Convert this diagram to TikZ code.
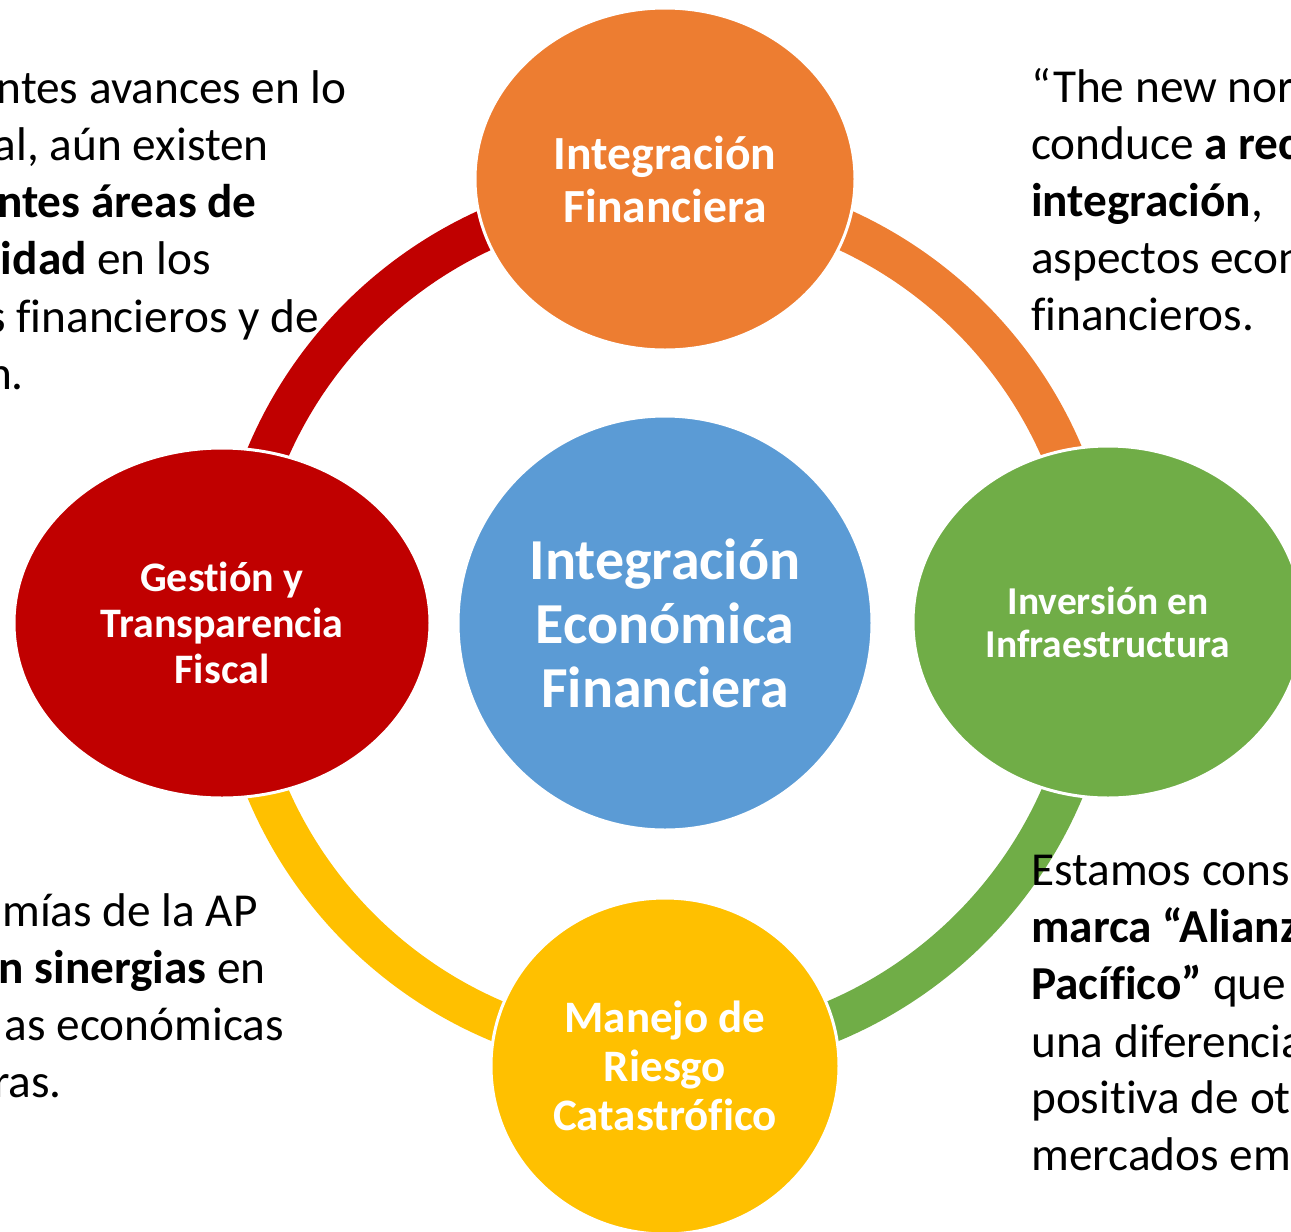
\documentclass[tikz,border=0pt]{standalone}
\usepackage{fontspec}
\setmainfont[Ligatures={NoCommon}]{Carlito}
\usetikzlibrary{shapes.geometric}
\definecolor{hubblue}{HTML}{5B9BD5}
\definecolor{finorange}{HTML}{ED7D31}
\definecolor{infgreen}{HTML}{70AD47}
\definecolor{riskyellow}{HTML}{FFC000}
\definecolor{fiscred}{HTML}{C00000}

\begin{document}
\begin{tikzpicture}[
    x=1pt, y=-1pt,
    sat/.style={
      ellipse, draw=white, line width=3pt, inner sep=0pt,
      text=white, align=center
    },
    hub/.style={sat, circle, fill=hubblue, minimum size=414pt,
      font=\bfseries\fontsize{58}{64}\selectfont},
    ring/.style={line width=41pt, line cap=butt},
    body/.style={inner sep=0pt, font=\fontsize{47.3}{57}\selectfont, text=black}
  ]
  \useasboundingbox (0,0) rectangle (1291,1232);
  \clip (0,0) rectangle (1291,1232);

  % Centro
  \node[hub] (ctr) at (665,623) {Integración\\Económica\\Financiera};

  % Anillo (un arco por color, los extremos quedan bajo las elipses)
  \draw[ring, fiscred]    (ctr) ++(180:432) arc[start angle=180, end angle=270, radius=432];
  \draw[ring, finorange]  (ctr) ++(270:432) arc[start angle=270, end angle=360, radius=432];
  \draw[ring, infgreen]   (ctr) ++(0:432)   arc[start angle=0,   end angle=90,  radius=432];
  \draw[ring, riskyellow] (ctr) ++(90:432)  arc[start angle=90,  end angle=180, radius=432];

  % Elipses
  \node[sat, fill=finorange, minimum width=380pt, minimum height=342pt,
        font=\bfseries\fontsize{47.6}{53}\selectfont]
        (finan) at (665,179) {Integración\\Financiera};
  \node[sat, fill=infgreen, minimum width=390pt, minimum height=352pt,
        font=\bfseries\fontsize{39.5}{43}\selectfont]
        (infra) at (1108,622) {Inversión en\\Infraestructura};
  \node[sat, fill=riskyellow, minimum width=348pt, minimum height=336pt,
        font=\bfseries\fontsize{45}{49}\selectfont]
        (riesgo) at (665,1066) {Manejo de\\Riesgo\\Catastrófico};
  \node[sat, fill=fiscred, minimum width=416pt, minimum height=350pt,
        font=\bfseries\fontsize{42}{46}\selectfont]
        (fiscal) at (222,623) {Gestión y\\Transparencia\\Fiscal};

  % Textos laterales (cortados por el borde)
  \foreach \n/\xx/\yy/\t in {
      1/347/103/{ntes avances en lo},
      2/269/160/{al, aún existen},
      3/257/217/{\textbf{ntes áreas de}},
      4/211/274/{\textbf{idad} en los},
      5/319/332/{s financieros y de},
      6/24/389/{n.}}
    \node[body, anchor=base east] (nw\n) at (\xx,\yy) {\t};

  \foreach \n/\xx/\yy/\t in {
      1/258/926/{mías de la AP},
      2/266/983/{\textbf{n sinergias} en},
      3/284/1040/{as económicas},
      4/62/1097/{ras.}}
    \node[body, anchor=base east] (sw\n) at (\xx,\yy) {\t};

  \foreach \n/\yy/\t in {
      1/102/{“The new nor},
      2/159/{conduce \textbf{a rec}},
      3/216/{\textbf{integración},},
      4/273/{aspectos econ},
      5/330/{financieros.}}
    \node[body, anchor=base west] (ne\n) at (1031,\yy) {\t};

  \foreach \n/\yy/\t in {
      1/885/{Estamos cons},
      2/942/{\textbf{marca “Alianz}},
      3/999/{\textbf{Pacífico”} que},
      4/1057/{una diferencia},
      5/1113/{positiva de ot},
      6/1170/{mercados em}}
    \node[body, anchor=base west] (se\n) at (1031,\yy) {\t};

\end{tikzpicture}
\end{document}
